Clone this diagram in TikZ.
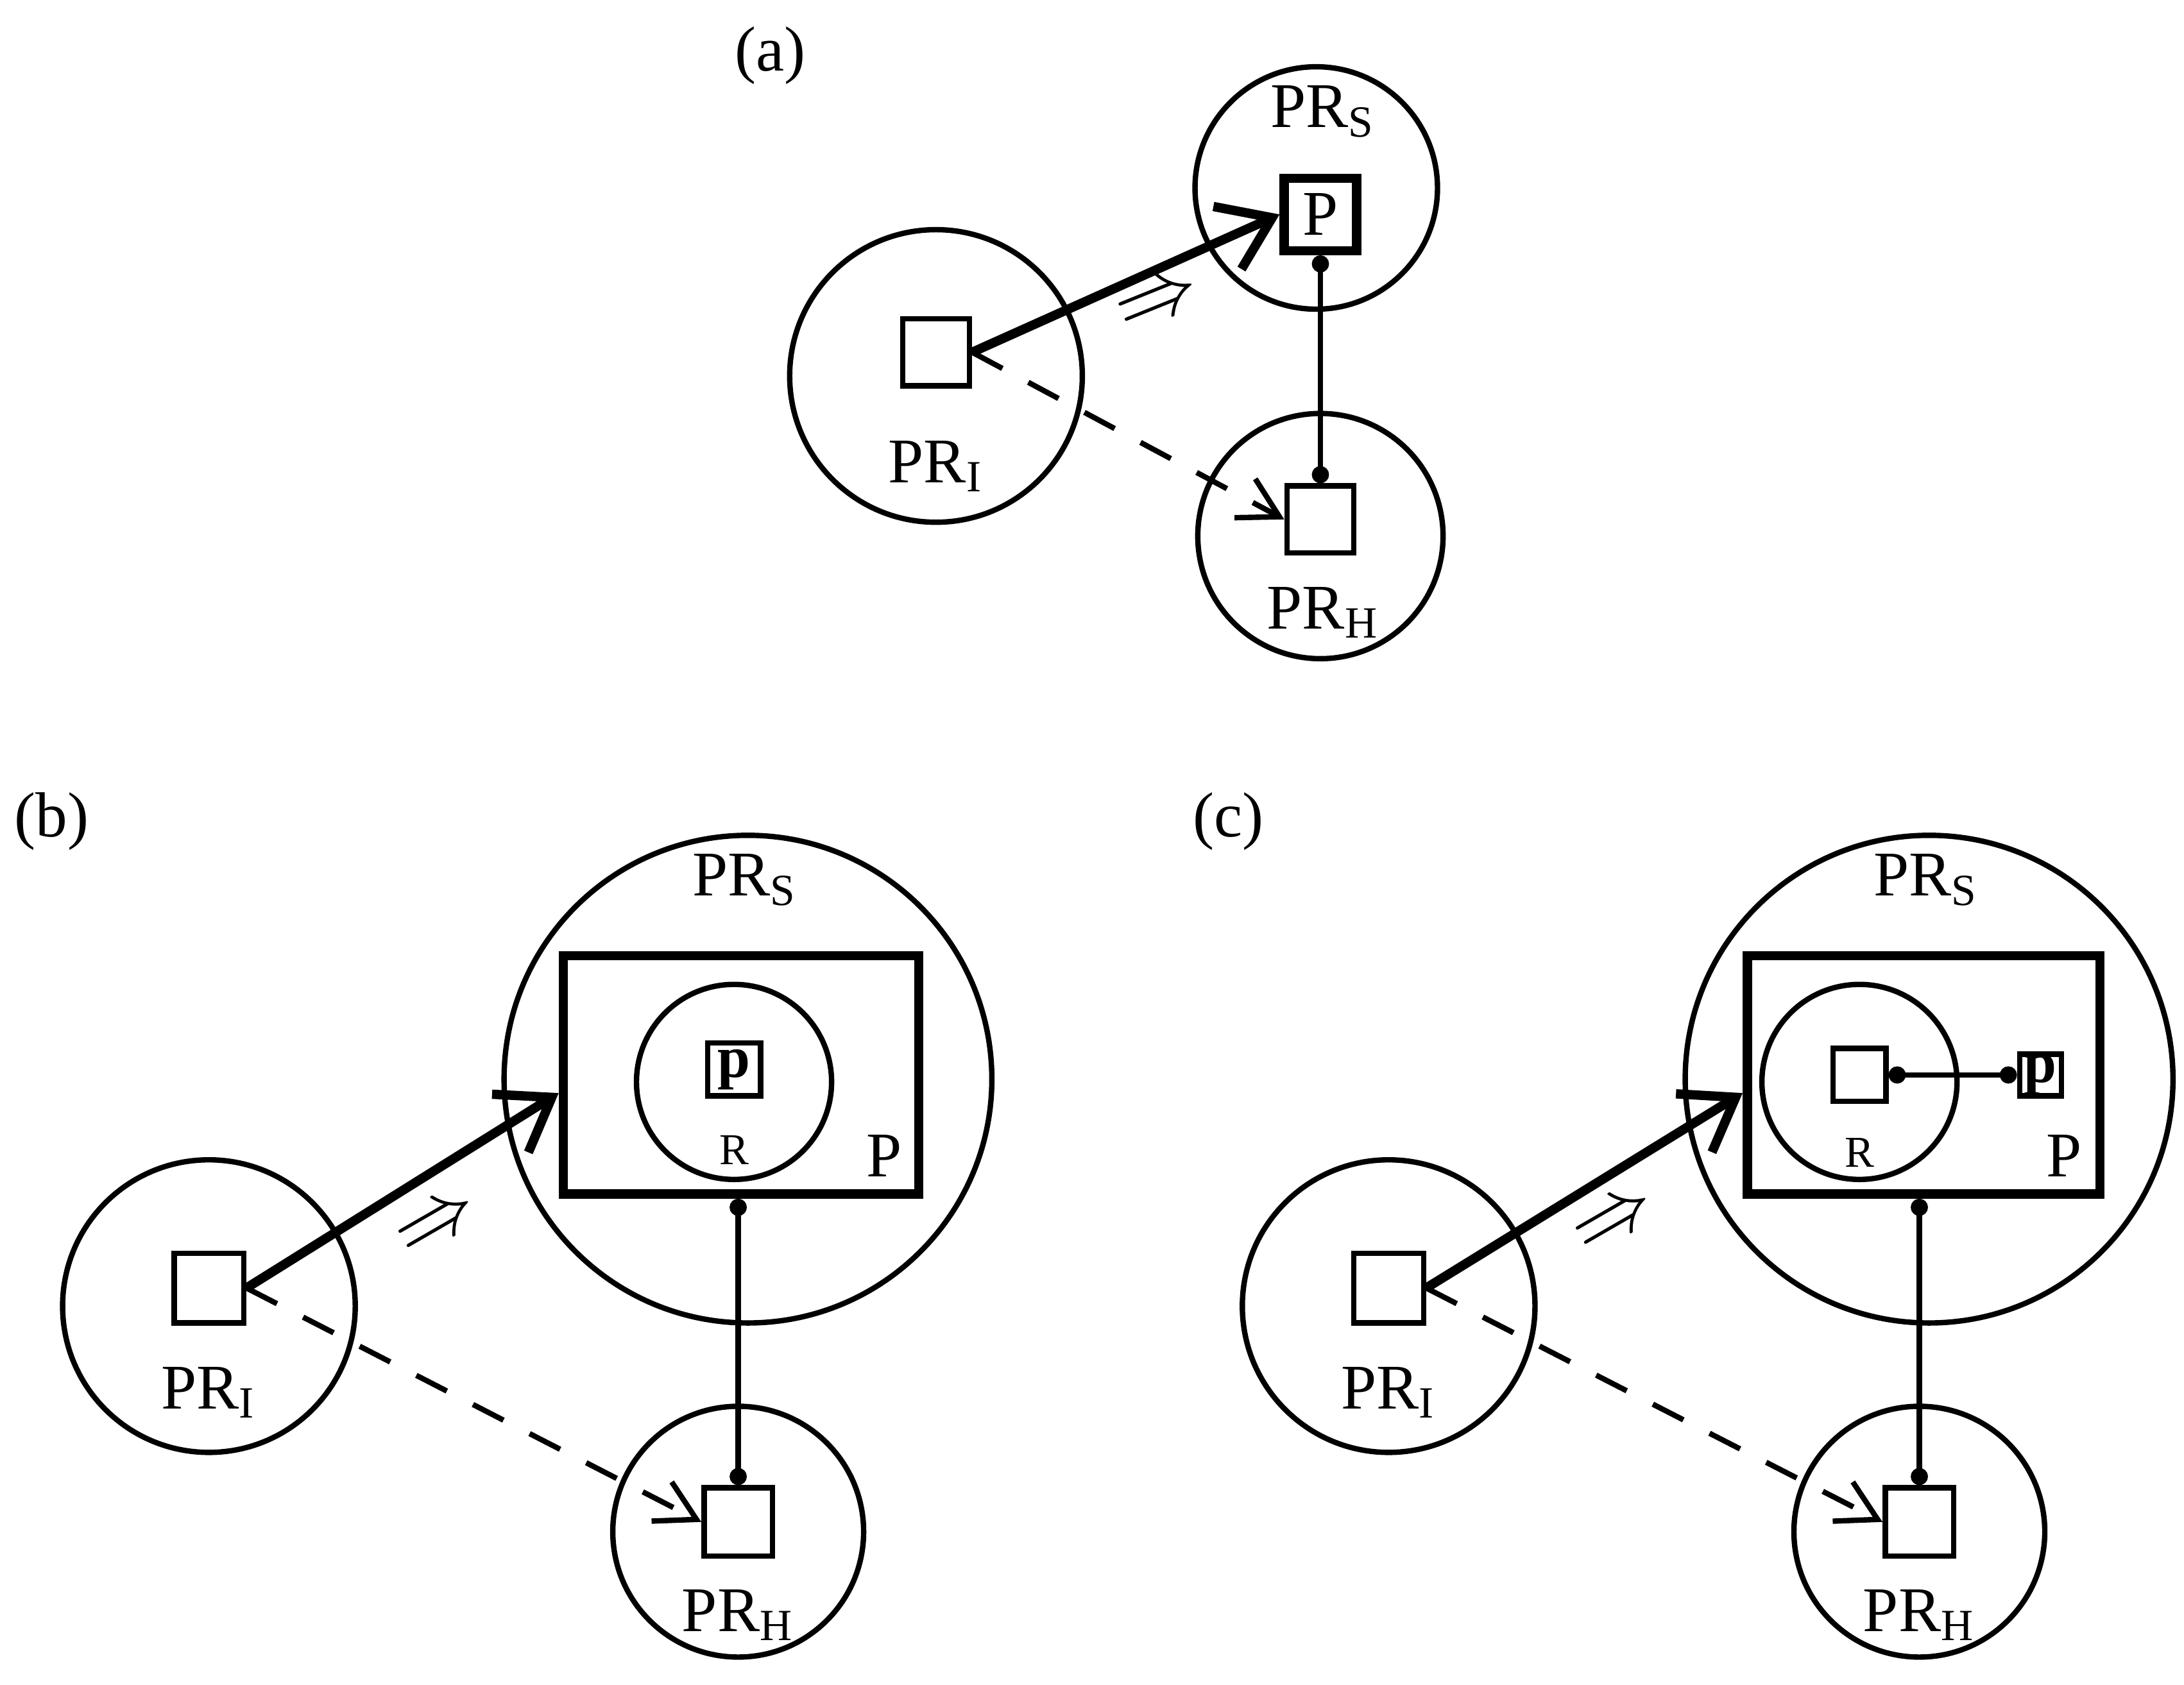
\documentclass[tikz,border=0pt]{standalone}
\usepackage{fontspec}
\setmainfont{Liberation Serif}
\usetikzlibrary{arrows.meta}
\begin{document}
\begin{tikzpicture}[x=0.01cm,y=-0.01cm,
  circ/.style={circle,draw,line width=1.1pt,inner sep=0},
  sq/.style={draw,line width=1.1pt,minimum size=0.48cm,inner sep=0},
  tsq/.style={draw,line width=1.9pt,inner sep=0},
  lab/.style={font=\fontsize{13}{15}\selectfont,inner sep=0},
  big/.style={line width=1.9pt,-{Straight Barb[length=10pt,width=14pt,line width=1.9pt]}},
  dsh/.style={line width=1.1pt,dash pattern=on 7pt off 6pt,-{Straight Barb[length=8pt,width=9pt,line width=1.1pt]}},
  dots/.style={line width=1.1pt,{Circle[length=3.5pt]}-{Circle[length=3.5pt]}},
  impl/.style={font=\fontsize{16}{18}\selectfont,inner sep=0}]
\useasboundingbox (0,0) rectangle (1568,1210);
% (a)
\node[lab] (la) at (553,40) {(a)};
\node[circ,minimum size=2.1cm] (aI) at (672,270) {};
\node[sq] (aIs) at (672,253) {};
\node[lab] (aIl) at (672,335) {PR$_{\mathrm{I}}$};
\node[circ,minimum size=1.74cm] (aS) at (945,135) {};
\node[lab] (aSl) at (950,80) {PR$_{\mathrm{S}}$};
\node[tsq,minimum size=0.52cm,lab,line width=1.9pt,draw] (aP) at (948,154) {P};
\node[circ,minimum size=1.76cm] (aH) at (948,385) {};
\node[sq] (aHs) at (948,373) {};
\node[lab] (aHl) at (950,440) {PR$_{\mathrm{H}}$};
\draw[big] (aIs.east) -- (aP.west);
\draw[dsh] (aIs.east) -- (aHs.west);
\draw[dots] (aP.south) -- (aHs.north);
\node[impl,rotate=22] (aim) at (832,218) {$\Rightarrow$};
% (b)
\node[lab] (lb) at (37,590) {(b)};
\node[circ,minimum size=2.1cm] (bI) at (150,938) {};
\node[sq,minimum size=0.5cm] (bIs) at (150,925) {};
\node[lab] (bIl) at (150,1000) {PR$_{\mathrm{I}}$};
\node[circ,minimum size=3.5cm] (bS) at (537,775) {};
\node[lab] (bSl) at (535,632) {PR$_{\mathrm{S}}$};
\node[tsq,minimum width=2.55cm,minimum height=1.71cm] (bP) at (532,772) {};
\node[circ,minimum size=1.4cm] (bR) at (527,777) {};
\node[draw,line width=1.1pt,minimum size=0.38cm,inner sep=0,font=\fontsize{12}{14}\selectfont\bfseries] (bp) at (527,768) {p};
\node[inner sep=0,font=\fontsize{9}{11}\selectfont] (bRl) at (527,826) {R};
\node[lab] (bPl) at (635,830) {P};
\node[circ,minimum size=1.8cm] (bH) at (530,1100) {};
\node[sq,minimum size=0.49cm] (bHs) at (530,1093) {};
\node[lab] (bHl) at (530,1160) {PR$_{\mathrm{H}}$};
\draw[big] (bIs.east) -- (bP.west |- 0,785);
\draw[dsh] (bIs.east) -- (bHs.west);
\draw[dots] (bP.south -| bHs.north) -- (bHs.north);
\node[impl,rotate=30] (bim) at (315,880) {$\Rightarrow$};
% (c)
\node[lab] (lc) at (882,590) {(c)};
\node[circ,minimum size=2.1cm] (cI) at (997,938) {};
\node[sq,minimum size=0.5cm] (cIs) at (997,925) {};
\node[lab] (cIl) at (997,1000) {PR$_{\mathrm{I}}$};
\node[circ,minimum size=3.5cm] (cS) at (1385,775) {};
\node[lab] (cSl) at (1383,632) {PR$_{\mathrm{S}}$};
\node[tsq,minimum width=2.53cm,minimum height=1.71cm] (cP) at (1381,772) {};
\node[circ,minimum size=1.4cm] (cR) at (1335,777) {};
\node[sq,minimum size=0.38cm] (cRs) at (1335,772) {};
\node[draw,line width=1.1pt,minimum size=0.3cm,inner sep=0,font=\fontsize{12}{14}\selectfont\bfseries] (cp) at (1465,772) {p};
\node[inner sep=0,font=\fontsize{9}{11}\selectfont] (cRl) at (1335,828) {R};
\node[lab] (cPl) at (1482,830) {P};
\draw[dots] (cRs.east) -- (cp.west);
\node[circ,minimum size=1.8cm] (cH) at (1378,1100) {};
\node[sq,minimum size=0.49cm] (cHs) at (1378,1093) {};
\node[lab] (cHl) at (1378,1160) {PR$_{\mathrm{H}}$};
\draw[big] (cIs.east) -- (cP.west |- 0,785);
\draw[dsh] (cIs.east) -- (cHs.west);
\draw[dots] (cP.south -| cHs.north) -- (cHs.north);
\node[impl,rotate=30] (cim) at (1160,878) {$\Rightarrow$};
\end{tikzpicture}
\end{document}
